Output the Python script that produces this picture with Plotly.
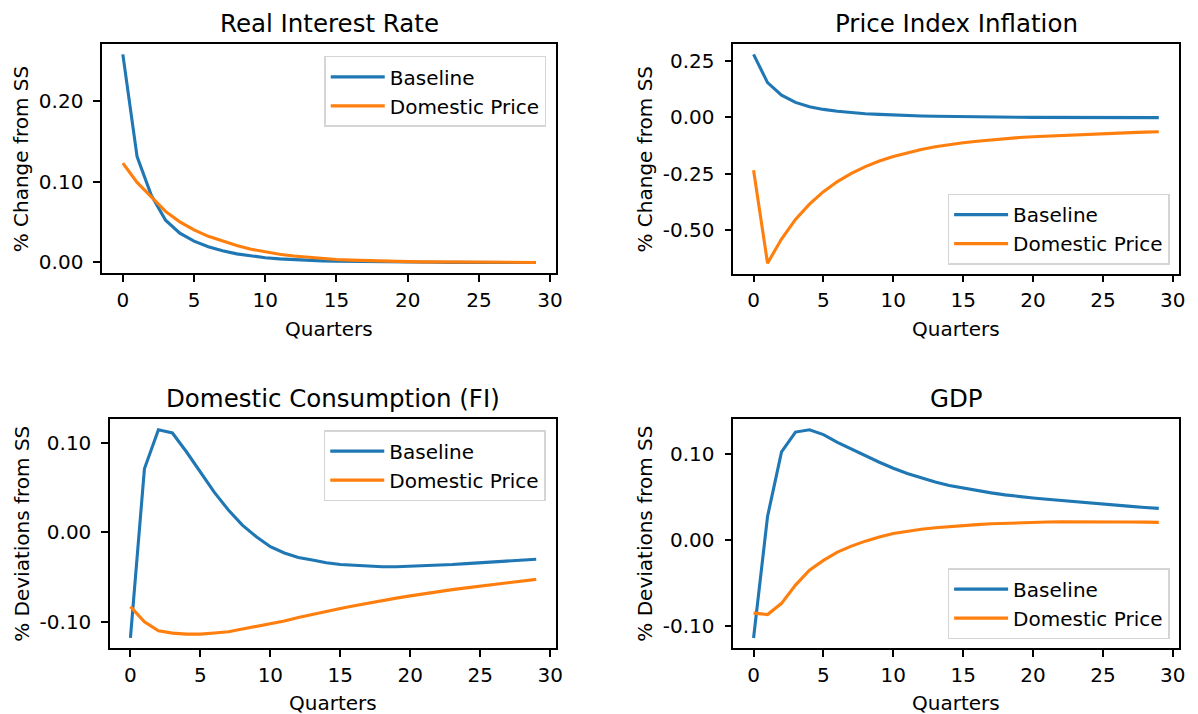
import plotly.graph_objects as go

# Quarters after the shock
quarters = list(range(30))

# Real interest rate (% change from SS)
rate_baseline = [0.258, 0.131, 0.083, 0.052, 0.036, 0.026, 0.019, 0.014, 0.0102, 0.0075,
                 0.0055, 0.004, 0.0029, 0.0021, 0.0015, 0.001, 0.0007, 0.0004, 0.0002, 0.0001,
                 0.0, -0.0001, -0.0002, -0.0003, -0.0003, -0.0004, -0.0004, -0.0005, -0.0005, -0.0005]
rate_domestic = [0.123, 0.099, 0.081, 0.063, 0.05, 0.04, 0.032, 0.026, 0.0205, 0.016,
                 0.0125, 0.0098, 0.0075, 0.0058, 0.0044, 0.0033, 0.0025, 0.0018, 0.0013, 0.0009,
                 0.0006, 0.0003, 0.0001, 0.0, -0.0001, -0.0002, -0.0003, -0.0003, -0.0004, -0.0004]

# Price index inflation (% change from SS)
infl_baseline = [0.279, 0.154, 0.098, 0.066, 0.047, 0.035, 0.027, 0.021, 0.016, 0.013,
                 0.010, 0.008, 0.006, 0.0045, 0.0033, 0.0023, 0.0015, 0.0009, 0.0004, 0.0,
                 -0.0003, -0.0006, -0.0008, -0.001, -0.0012, -0.0013, -0.0014, -0.0015, -0.0016, -0.0017]
infl_domestic = [-0.235, -0.647, -0.54, -0.453, -0.385, -0.33, -0.285, -0.249, -0.219, -0.194,
                 -0.174, -0.157, -0.143, -0.131, -0.121, -0.113, -0.106, -0.100, -0.095, -0.090,
                 -0.086, -0.083, -0.080, -0.077, -0.075, -0.073, -0.070, -0.068, -0.066, -0.064]

# Domestic consumption, FI (% deviations from SS)
cons_baseline = [-0.118, 0.071, 0.1145, 0.111, 0.090, 0.068, 0.0446, 0.025, 0.008, -0.005,
                 -0.016, -0.023, -0.028, -0.031, -0.034, -0.036, -0.037, -0.038, -0.0385, -0.0385,
                 -0.038, -0.0377, -0.037, -0.036, -0.035, -0.034, -0.033, -0.032, -0.031, -0.030]
cons_domestic = [-0.083, -0.100, -0.110, -0.1126, -0.1137, -0.1137, -0.1125, -0.111, -0.108, -0.105,
                 -0.102, -0.099, -0.095, -0.0915, -0.088, -0.085, -0.082, -0.079, -0.076, -0.0735,
                 -0.071, -0.0685, -0.066, -0.064, -0.062, -0.060, -0.058, -0.056, -0.054, -0.0525]

# GDP (% deviations from SS)
gdp_baseline = [-0.1138, 0.0272, 0.102, 0.125, 0.1276, 0.122, 0.113, 0.105, 0.0977, 0.090,
                0.083, 0.077, 0.072, 0.067, 0.063, 0.060, 0.057, 0.0545, 0.0522, 0.050,
                0.0485, 0.047, 0.0455, 0.044, 0.0425, 0.0413, 0.040, 0.0388, 0.0376, 0.0365]
gdp_domestic = [-0.085, -0.0866, -0.0736, -0.0525, -0.0353, -0.0238, -0.0142, -0.0073, -0.0015, 0.0034,
                0.0073, 0.0100, 0.0122, 0.0140, 0.0155, 0.0167, 0.0177, 0.0186, 0.0193, 0.0199,
                0.0204, 0.0207, 0.0209, 0.0210, 0.0210, 0.0209, 0.0208, 0.0207, 0.0205, 0.0203]

# Tick values on each panel's value axis
rate_ticks = [0.0, 0.1, 0.2]
infl_ticks = [-0.5, -0.25, 0.0, 0.25]
cons_ticks = [-0.1, 0.0, 0.1]
gdp_ticks = [-0.1, 0.0, 0.1]
quarter_ticks = [0, 5, 10, 15, 20, 25, 30]

titles = ["Real Interest Rate", "Price Index Inflation", "Domestic Consumption (FI)", "GDP"]
ylabels = ["% Change from SS", "% Change from SS", "% Deviations from SS", "% Deviations from SS"]
xlabel = "Quarters"
series_names = ["Baseline", "Domestic Price"]

W, H = 1198, 714
BLUE, ORANGE = "#1f77b4", "#ff7f0e"
FONT = "DejaVu Sans"

# Pixel boxes of the four panels, legend anchors and label positions
panels = [
    dict(b=rate_baseline, d=rate_domestic, ticks=rate_ticks,
         x=(102.7, 559.3), y=(44, 273.3), ylab_x=22, xlab_y=329,
         leg=dict(x=549, y=56, xanchor="right", yanchor="top")),
    dict(b=infl_baseline, d=infl_domestic, ticks=infl_ticks,
         x=(737, 1185), y=(44, 274), ylab_x=648, xlab_y=329,
         leg=dict(x=1175.5, y=265, xanchor="right", yanchor="bottom")),
    dict(b=cons_baseline, d=cons_domestic, ticks=cons_ticks,
         x=(110.7, 559.3), y=(420, 649.3), ylab_x=22, xlab_y=704,
         leg=dict(x=548.5, y=430.7, xanchor="right", yanchor="top")),
    dict(b=gdp_baseline, d=gdp_domestic, ticks=gdp_ticks,
         x=(737, 1185), y=(420, 649.3), ylab_x=648, xlab_y=704,
         leg=dict(x=1175.5, y=640, xanchor="right", yanchor="bottom")),
]

fig = go.Figure()
layout = dict(
    width=W, height=H,
    margin=dict(l=0, r=0, t=0, b=0),
    paper_bgcolor="white", plot_bgcolor="white",
    font=dict(family=FONT, size=20, color="black"),
    annotations=[],
)

axis_common = dict(
    showline=True, linecolor="black", linewidth=1.6, mirror=True,
    ticks="outside", ticklen=7, tickwidth=1.6, tickcolor="black",
    showgrid=False, zeroline=False,
    tickfont=dict(family=FONT, size=20, color="black"),
)

for i, p in enumerate(panels):
    n = "" if i == 0 else str(i + 1)
    legname = "legend" + n
    for vals, color, name in [(p["b"], BLUE, series_names[0]), (p["d"], ORANGE, series_names[1])]:
        fig.add_trace(go.Scatter(
            x=quarters, y=vals, mode="lines", name=name,
            line=dict(color=color, width=3.1),
            xaxis="x" + n, yaxis="y" + n, legend=legname,
        ))

    lo = min(min(p["b"]), min(p["d"]))
    hi = max(max(p["b"]), max(p["d"]))
    pad = 0.05 * (hi - lo)
    xpad = 0.05 * (quarters[-1] - quarters[0])
    xd = [p["x"][0] / W, p["x"][1] / W]
    yd = [1 - p["y"][1] / H, 1 - p["y"][0] / H]

    layout["xaxis" + n] = dict(
        axis_common, domain=xd, anchor="y" + n,
        range=[quarters[0] - xpad, quarters[-1] + xpad],
        tickvals=quarter_ticks, ticktext=[str(t) for t in quarter_ticks],
        ticklabelstandoff=1,
    )
    layout["yaxis" + n] = dict(
        axis_common, domain=yd, anchor="x" + n, range=[lo - pad, hi + pad],
        tickvals=p["ticks"], ticktext=[f"{t:.2f}" for t in p["ticks"]],
        ticklabelstandoff=6,
    )
    layout[legname] = dict(
        x=p["leg"]["x"] / W, y=1 - p["leg"]["y"] / H,
        xanchor=p["leg"]["xanchor"], yanchor=p["leg"]["yanchor"],
        xref="paper", yref="paper", itemwidth=54,
        bgcolor="rgba(255,255,255,0.8)", bordercolor="#d5d5d5", borderwidth=1.5,
        font=dict(family=FONT, size=20, color="black"),
    )
    # panel title
    layout["annotations"].append(dict(
        text=titles[i], xref="paper", yref="paper",
        x=(xd[0] + xd[1]) / 2, y=yd[1], xanchor="center", yanchor="bottom",
        yshift=4, showarrow=False, font=dict(family=FONT, size=24.5, color="black"),
    ))
    # value-axis label
    layout["annotations"].append(dict(
        text=ylabels[i], xref="paper", yref="paper", textangle=-90,
        x=p["ylab_x"] / W, y=(yd[0] + yd[1]) / 2, xanchor="center", yanchor="middle",
        showarrow=False, font=dict(family=FONT, size=20, color="black"),
    ))
    # time-axis label
    layout["annotations"].append(dict(
        text=xlabel, xref="paper", yref="paper",
        x=(xd[0] + xd[1]) / 2, y=1 - p["xlab_y"] / H, xanchor="center", yanchor="middle",
        showarrow=False, font=dict(family=FONT, size=20, color="black"),
    ))

fig.update_layout(**layout)
fig.write_html("out.html")
